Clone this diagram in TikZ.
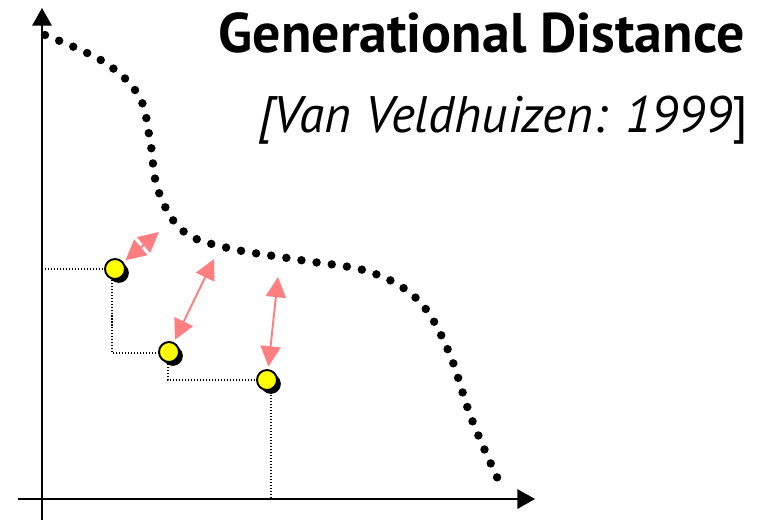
\documentclass[tikz,border=0pt]{standalone}
\usepackage{fontspec}
\setmainfont{PT Sans}
\usetikzlibrary{arrows.meta,shadows}
\definecolor{gap}{HTML}{FF7F80}
\definecolor{sol}{HTML}{FFFF00}
\begin{document}
\begin{tikzpicture}[x=0.02cm,y=-0.02cm,
  axis/.style={line width=1.1pt,-{Triangle[length=10pt,width=11pt]}},
  front/.style={line width=4.8pt,line cap=round,dash pattern=on 0pt off 8.7pt},
  guide/.style={line width=0.6pt,dash pattern=on 0.6pt off 1.1pt},
  gaparrow/.style={draw=gap,line width=1.1pt,{Triangle[length=11.5pt,width=11.5pt]}-{Triangle[length=11.5pt,width=11.5pt]},shorten <=1.5pt},
  solpt/.style={circle,draw,line width=1.1pt,fill=sol,minimum size=0.4cm,inner sep=0pt,
    drop shadow={shadow xshift=2.2pt,shadow yshift=-2.2pt,fill=black,opacity=1}}]
\useasboundingbox (0,0) rectangle (762,522);
\draw[axis] (18,499) -- (535,499);
\draw[axis] (42,520) -- (42,8);
\draw[front] plot[smooth,tension=0.6] coordinates {(45,35) (104,62) (139,96) (150,140) (158,190) (183,231) (228,248) (300,260) (370,272) (418,300) (448,350) (472,420) (502,488)};
\draw[guide] (42,269) -- (112,269) -- (112,353) -- (168,353) -- (168,380) -- (271,380) -- (271,499);
\node[solpt] (p1) at (115,269) {};
\node[solpt] (p2) at (169,352) {};
\node[solpt] (p3) at (267,380) {};
\coordinate (c1) at (159,232);
\coordinate (c2) at (214,259);
\coordinate (c3) at (278,277);
\draw[gaparrow] (p1) -- (c1);
\draw[gaparrow] (p2) -- (c2);
\draw[gaparrow] (p3) -- (c3);
\node[anchor=base east,inner sep=0pt,font=\fontsize{31.8}{36}\selectfont\bfseries] (title) at (745,52) {Generational Distance};
\node[anchor=base east,inner sep=0pt,font=\fontsize{29.2}{34}\selectfont] (cite) at (748,132) {\textit{[Van Veldhuizen: 1999}]};
\end{tikzpicture}
\end{document}
